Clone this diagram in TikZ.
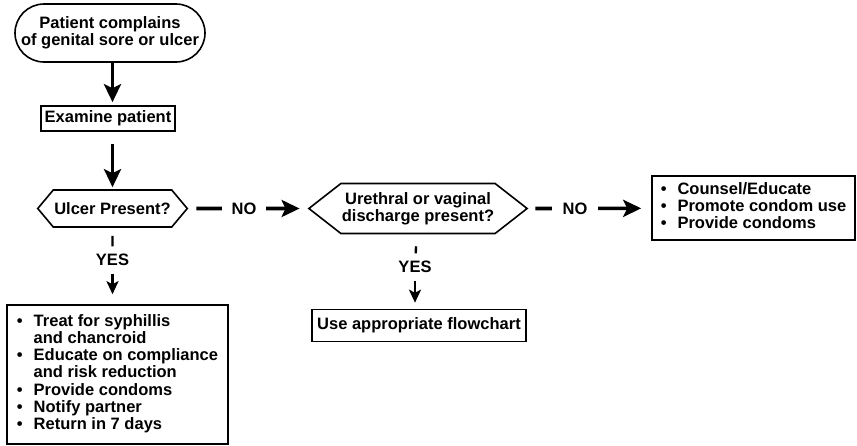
\documentclass[tikz,border=0pt]{standalone}
\usepackage{fontspec}
\setmainfont{Liberation Sans}
\usetikzlibrary{arrows.meta, shapes.symbols, positioning}

\begin{document}
\begin{tikzpicture}[x=1pt, y=-1pt, ->, >={Stealth[length=18pt, width=17pt, inset=4pt]}, line width=3.6pt, font=\bfseries\fontsize{16.5}{17.3}\selectfont]
    \tikzstyle{start}=[shape=rectangle, rounded corners=29pt, draw=black, line width=1.6pt, align=center, minimum width=190pt, minimum height=58pt, inner sep=0pt]
    \tikzstyle{box}=[shape=rectangle, draw=black, line width=1.6pt, align=left, inner sep=3pt]
    \tikzstyle{decision}=[shape=signal, signal to=west and east, draw=black, line width=1.6pt, align=center, inner sep=1pt]
    \tikzstyle{lbl}=[draw=none, inner xsep=8pt, inner ysep=6pt]
    \tikzstyle{thin}=[line width=2.4pt, >={Stealth[length=13pt, width=12pt, inset=3pt]}]

    \useasboundingbox (0,0) rectangle (857,445);

    \node[start]  (s1) at (110,33)   {Patient complains\\of genital sore or ulcer};
    \node[box, minimum width=134pt, minimum height=25pt]  (s2) at (108,118.5)  {Examine patient};
    \node[decision, signal pointer angle=100, minimum width=145pt, minimum height=37pt]  (d1) at (112.5,208.5)  {Ulcer Present?};
    \node[lbl]  (no1) at (244,208.5)  {NO};
    \node[decision, signal pointer angle=76, minimum width=200pt, minimum height=50pt]  (d2) at (418,208.5)  {Urethral or vaginal\\discharge present?};
    \node[lbl, inner xsep=9pt]  (no2) at (575,208.5)  {NO};
    \node[box, minimum width=203pt, minimum height=64pt]  (b1) at (753.5,208)  {\begin{tabular}{@{}l@{\hspace{11pt}}l@{}}
        \textbullet & Counsel/Educate\\
        \textbullet & Promote condom use\\
        \textbullet & Provide condoms
    \end{tabular}};
    \node[lbl]  (yes1) at (112.5,260)  {YES};
    \node[box, minimum width=221pt, minimum height=139pt]  (b2) at (117.5,374.5)  {\begin{tabular}{@{}l@{\hspace{11pt}}l@{}}
        \textbullet & Treat for syphillis\\
                    & and chancroid\\
        \textbullet & Educate on compliance\\
                    & and risk reduction\\
        \textbullet & Provide condoms\\
        \textbullet & Notify partner\\
        \textbullet & Return in 7 days
    \end{tabular}};
    \node[lbl]  (yes2) at (415,267)  {YES};
    \node[box, minimum width=214pt, minimum height=32pt]  (b3) at (419,325.5)  {Use appropriate flowchart};

    \path
    (s1.south -| d1.north)   edge[shorten >=3pt]   node{} (s2.north -| d1.north)
    (s2.south -| d1.north)   edge[shorten <=12pt, shorten >=2pt]   node{} (d1.north)
    (d1)    edge[-, shorten <=8pt]   node{} (no1)
    (no1)   edge[shorten >=8pt]   node{} (d2)
    (d2)    edge[-, shorten <=7pt]   node{} (no2)
    (no2)   edge[shorten >=10pt]   node{} (b1)
    (d1)    edge[-, thin, shorten <=8pt]   node{} (yes1)
    (yes1)  edge[thin, shorten >=10pt]   node{} (yes1 |- b2.north)
    (d2)    edge[-, thin, shorten <=12pt]   node{} (yes2)
    (yes2)  edge[thin, shorten >=6pt]   node{} (yes2 |- b3.north)
            ;

\end{tikzpicture}
\end{document}
